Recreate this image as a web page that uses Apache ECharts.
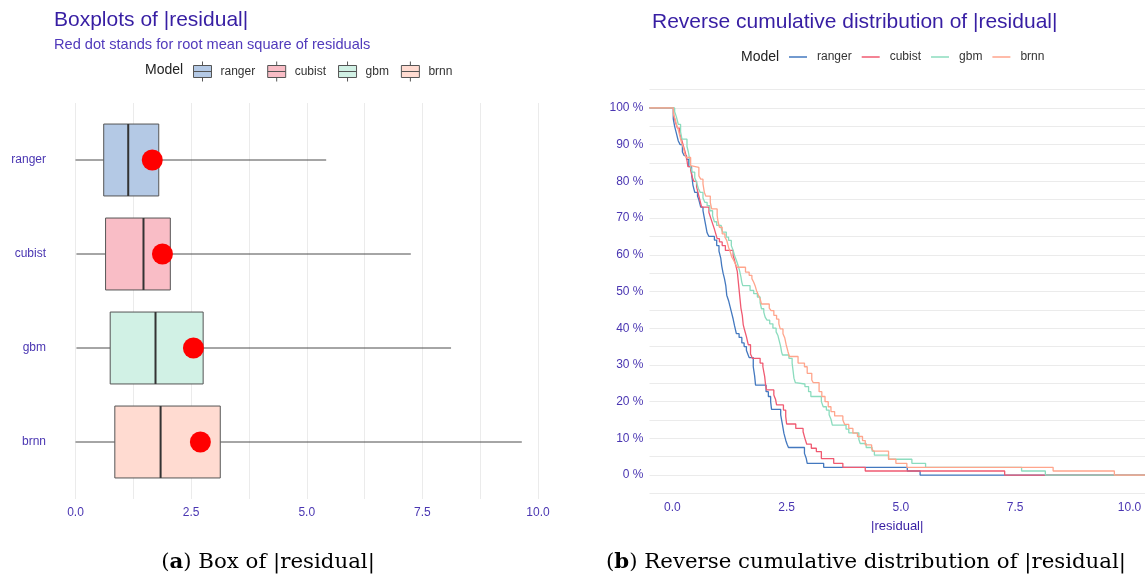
<!DOCTYPE html>
<html><head><meta charset="utf-8">
<script src="https://cdn.jsdelivr.net/npm/echarts@6/dist/echarts.min.js"></script>
<style>html,body{margin:0;padding:0;background:#fff}#c{width:1148px;height:578px}</style>
</head><body><div id="c"></div>
<script>
// ---------- data ----------
const models = ['ranger', 'cubist', 'gbm', 'brnn'];
const lineColors = ['#4378bf', '#f05a71', '#8bdcbe', '#ffa58c'];
const boxFills = ['#b4c9e5', '#f9bdc6', '#d1f1e5', '#ffdbd1'];

const boxMin    = [0.00, 0.02, 0.02, 0.00];
const boxQ1     = [0.61, 0.65, 0.75, 0.85];
const boxMedian = [1.14, 1.47, 1.73, 1.84];
const boxQ3     = [1.80, 2.05, 2.76, 3.13];
const boxMax    = [5.42, 7.25, 8.12, 9.65];
const rmse      = [1.66, 1.88, 2.55, 2.70];

const xTickLabels = [0, 2.5, 5, 7.5, 10];
const pctTickLabels = [0, 10, 20, 30, 40, 50, 60, 70, 80, 90, 100];

// reverse cumulative distribution: [|residual|, % of residuals above]
const rangerSteps = [[-0.5,100],[0.02,97],[0.05,95],[0.09,93],[0.13,91],[0.17,90],[0.22,88],[0.26,87],[0.31,86],[0.36,84],[0.42,82],[0.45,79],[0.49,77],[0.55,76],[0.58,75],[0.62,73],[0.67,72],[0.70,70],[0.73,68],[0.76,66],[0.80,65],[0.92,64],[0.97,62.5],[1.02,61],[1.06,59],[1.08,57],[1.11,55],[1.14,53.5],[1.17,51.5],[1.19,49],[1.23,47.5],[1.26,46],[1.29,44.5],[1.33,42.5],[1.36,40.7],[1.40,38.5],[1.46,37.5],[1.52,36],[1.57,35],[1.62,34],[1.65,33],[1.68,32],[1.77,29.5],[1.80,27],[1.82,24.5],[2.05,22.7],[2.10,21.4],[2.15,20],[2.17,17.9],[2.37,16.4],[2.41,13.6],[2.44,11.4],[2.48,9.5],[2.51,8.4],[2.54,7.5],[2.89,5.9],[2.93,4.5],[2.95,3.2],[3.31,2.1],[5.14,1.1],[5.42,0],[10.34,0]];
const cubistSteps = [[-0.5,100],[0.03,98],[0.07,96],[0.11,94.5],[0.16,93],[0.20,91.5],[0.24,89.7],[0.28,88],[0.31,86.5],[0.34,84],[0.40,83],[0.44,81],[0.47,80],[0.53,78.5],[0.56,77],[0.60,75],[0.64,73],[0.80,71.5],[0.84,70],[0.88,68.5],[0.92,67],[0.95,65.7],[0.98,64.4],[1.03,63.5],[1.09,62.5],[1.16,61.2],[1.33,59.8],[1.36,58.5],[1.39,57],[1.42,55.5],[1.44,53],[1.46,50.5],[1.48,48],[1.50,45.5],[1.53,43.5],[1.55,41],[1.58,39.5],[1.62,37.7],[1.66,35.5],[1.71,33],[1.75,31.8],[1.92,30.5],[1.98,29.5],[2.02,26.8],[2.04,24.5],[2.06,23.2],[2.22,21.8],[2.26,20.5],[2.28,19.1],[2.43,17.7],[2.48,16],[2.50,13.9],[2.70,12.7],[2.86,11.8],[2.90,10],[2.94,8.4],[3.04,7.3],[3.15,6.4],[3.26,4.5],[3.53,3.2],[3.73,2.1],[4.22,1.1],[7.27,0],[10.34,0]];
const gbmSteps = [[-0.5,100],[0.05,99],[0.09,97.5],[0.13,95.5],[0.18,93.5],[0.21,91.5],[0.32,89.5],[0.35,88],[0.38,86],[0.40,84],[0.43,82.5],[0.49,81],[0.53,79.7],[0.57,78],[0.61,77],[0.67,75.5],[0.71,74.3],[0.76,73.4],[0.82,72],[0.88,70.6],[0.92,69],[0.97,68],[1.07,67.1],[1.10,66.2],[1.18,64.8],[1.23,63.9],[1.29,62.5],[1.33,61.2],[1.36,59.8],[1.40,58.5],[1.44,57],[1.47,55.7],[1.50,54],[1.52,52.5],[1.54,51.6],[1.70,50.3],[1.78,49.4],[1.86,48.5],[1.92,47],[1.95,45.3],[2.00,44.4],[2.03,43],[2.07,42.2],[2.13,41.2],[2.20,40],[2.27,39],[2.31,38],[2.34,36.5],[2.37,35],[2.39,33.5],[2.41,32.7],[2.55,31.8],[2.62,30.5],[2.64,28.5],[2.66,26.4],[2.69,25.2],[2.71,24.8],[2.90,24.1],[2.98,22.7],[3.03,21.4],[3.26,20],[3.30,18.6],[3.37,17.7],[3.43,16.4],[3.47,15.2],[3.50,13.6],[3.80,12.5],[3.86,11.5],[4.08,9.7],[4.11,8.6],[4.24,7.5],[4.37,6.5],[4.42,5.4],[4.73,4.3],[5.24,3.2],[5.54,2.1],[7.64,1.1],[8.16,0],[10.34,0]];
const brnnSteps = [[-0.5,100],[0.02,98.4],[0.06,97],[0.09,95.5],[0.12,94.5],[0.15,93],[0.17,92],[0.20,90.6],[0.24,89.3],[0.27,87.5],[0.30,86.5],[0.40,84.3],[0.43,83.8],[0.58,81.5],[0.62,80.6],[0.67,79.3],[0.70,77],[0.73,76],[0.83,74.3],[0.86,72.5],[0.98,70.7],[1.00,69],[1.03,67.5],[1.09,65.7],[1.15,64.8],[1.19,63.9],[1.23,62],[1.27,60.7],[1.30,59.4],[1.34,58.5],[1.38,57.5],[1.42,56.6],[1.60,55.3],[1.68,54.4],[1.74,53.5],[1.78,52.5],[1.81,51.6],[1.84,50.3],[1.88,49.1],[1.92,48],[1.95,46.6],[2.12,45.5],[2.16,44.8],[2.22,43.5],[2.28,42.5],[2.33,41.2],[2.36,39.8],[2.42,38.5],[2.46,37.3],[2.49,35.5],[2.53,33.6],[2.56,32.3],[2.75,30.5],[2.89,29.5],[2.95,27.7],[3.05,25.9],[3.08,25.2],[3.21,22.7],[3.27,21.4],[3.34,20],[3.41,18.6],[3.47,17.3],[3.55,16.1],[3.73,15],[3.77,13.8],[3.86,12.7],[3.95,11.4],[4.05,10.5],[4.16,9.4],[4.22,8.2],[4.36,7.2],[4.40,6.5],[4.73,4.3],[4.89,3.2],[5.13,2.1],[8.33,1.1],[9.67,0],[10.34,0]];
const stepSeries = [rangerSteps, cubistSteps, gbmSteps, brnnSteps];

// ---------- chart ----------
const FONT = '"Liberation Sans", Arial, Helvetica, sans-serif';
const PURPLE = '#371ea3';
const AXIS_TXT = '#4a36b2';
const GRID_C = '#ebebeb';

const chart = echarts.init(document.getElementById('c'), null, {renderer: 'canvas'});

function isTick(v, list) {
  return list.some(t => Math.abs(v - t) < 1e-6);
}

function renderBox(params, api) {
  const cat = api.value(0);
  const yC = api.coord([0, cat])[1];
  const h = api.size([0, 1])[1] * 0.765;
  const xs = [1, 2, 3, 4, 5].map(i => api.coord([api.value(i), cat])[0]);
  const fill = api.visual('color');
  return {
    type: 'group',
    children: [
      {type: 'line', shape: {x1: xs[0], y1: yC, x2: xs[1], y2: yC}, style: {stroke: '#4d4d4d', lineWidth: 1}},
      {type: 'line', shape: {x1: xs[3], y1: yC, x2: xs[4], y2: yC}, style: {stroke: '#4d4d4d', lineWidth: 1}},
      {type: 'rect', shape: {x: xs[1], y: yC - h / 2, width: xs[3] - xs[1], height: h}, style: {fill: fill, stroke: '#555', lineWidth: 1}},
      {type: 'line', shape: {x1: xs[2], y1: yC - h / 2, x2: xs[2], y2: yC + h / 2}, style: {stroke: '#333', lineWidth: 2}}
    ]
  };
}

const series = [];
models.forEach((m, i) => {
  series.push({
    name: m, type: 'custom', xAxisIndex: 1, yAxisIndex: 1,
    itemStyle: {color: boxFills[i]},
    encode: {x: [1, 2, 3, 4, 5], y: 0},
    renderItem: renderBox,
    data: [[i, boxMin[i], boxQ1[i], boxMedian[i], boxQ3[i], boxMax[i]]],
    z: 2
  });
});
series.push({
  name: 'rmse', type: 'scatter', xAxisIndex: 1, yAxisIndex: 1,
  symbol: 'circle', symbolSize: 21,
  itemStyle: {color: '#ff0000', opacity: 1},
  data: models.map((m, i) => [rmse[i], i]),
  z: 5
});
models.forEach((m, i) => {
  series.push({
    name: m, type: 'line', xAxisIndex: 2, yAxisIndex: 2,
    step: 'end', showSymbol: false, symbol: 'none',
    lineStyle: {color: lineColors[i], width: 1.3},
    itemStyle: {color: lineColors[i]},
    data: stepSeries[i],
    z: 3 + i
  });
});

const CAP = '"DejaVu Serif", serif';
const option = {
  animation: false,
  backgroundColor: '#fff',
  textStyle: {fontFamily: FONT},
  title: [
    {text: 'Boxplots of |residual|', left: 54, top: 10, padding: 0,
     textStyle: {fontSize: 21, fontWeight: 'normal', color: PURPLE, fontFamily: FONT}},
    {text: 'Red dot stands for root mean square of residuals', left: 54, top: 37, padding: 0,
     textStyle: {fontSize: 14.6, fontWeight: 'normal', color: '#5039bb', fontFamily: FONT}},
    {text: 'Model', left: 145, top: 63, padding: 0,
     textStyle: {fontSize: 14, fontWeight: 'normal', color: '#222', fontFamily: FONT}},
    {text: 'Reverse cumulative distribution of |residual|', left: 652, top: 12, padding: 0,
     textStyle: {fontSize: 21, fontWeight: 'normal', color: PURPLE, fontFamily: FONT}},
    {text: 'Model', left: 741, top: 50, padding: 0,
     textStyle: {fontSize: 14, fontWeight: 'normal', color: '#222', fontFamily: FONT}}
  ],
  legend: [
    {
      left: 193, top: 61, orient: 'horizontal', padding: 0,
      itemWidth: 18, itemHeight: 20, itemGap: 12, selectedMode: false,
      icon: 'path://M0,4L18,4L18,16L0,16Z M0,10L18,10 M9,0L9,4 M9,16L9,20',
      textStyle: {fontSize: 12, color: '#333', fontFamily: FONT, padding: [0, 0, 0, 4]},
      data: models.map((m, i) => ({name: m, itemStyle: {color: boxFills[i], borderColor: '#555', borderWidth: 1}}))
    },
    {
      left: 789, top: 51, orient: 'horizontal', padding: 0,
      itemWidth: 18, itemHeight: 1.5, itemGap: 10, selectedMode: false,
      icon: 'rect',
      textStyle: {fontSize: 12, color: '#333', fontFamily: FONT, padding: [0, 0, 0, 5]},
      data: models.map((m, i) => ({name: m, itemStyle: {color: lineColors[i], borderWidth: 0}}))
    }
  ],
  grid: [
    {left: 75.5, width: 462.5, top: 103, height: 396, containLabel: false},
    {left: 75.5, width: 462.5, top: 113, height: 376, containLabel: false},
    {left: 649.5, right: 0, top: 89.6, height: 403.8, containLabel: false}
  ],
  xAxis: [
    {gridIndex: 0, type: 'value', min: 0, max: 10, interval: 1.25,
     axisLine: {show: false}, axisTick: {show: false},
     splitLine: {show: true, lineStyle: {color: GRID_C, width: 1}},
     axisLabel: {show: true, margin: 8, fontSize: 12, color: AXIS_TXT, fontFamily: FONT,
       formatter: v => isTick(v, xTickLabels) ? v.toFixed(1) : ''}},
    {gridIndex: 1, type: 'value', min: 0, max: 10, show: false},
    {gridIndex: 2, type: 'value', min: -0.5, max: 10.34, interval: 0.5,
     axisLine: {show: false}, axisTick: {show: false}, splitLine: {show: false},
     name: '|residual|', nameLocation: 'middle', nameGap: 27,
     nameTextStyle: {fontSize: 13, color: PURPLE, fontFamily: FONT},
     axisLabel: {show: true, margin: 8, fontSize: 12, color: AXIS_TXT, fontFamily: FONT,
       showMinLabel: true, showMaxLabel: true,
       formatter: v => isTick(v, xTickLabels) ? v.toFixed(1) : ''}}
  ],
  yAxis: [
    {gridIndex: 0, type: 'value', min: 0, max: 1, show: false},
    {gridIndex: 1, type: 'category', data: models, inverse: true,
     axisLine: {show: false}, axisTick: {show: false}, splitLine: {show: false},
     axisLabel: {margin: 29.5, fontSize: 12, color: AXIS_TXT, fontFamily: FONT}},
    {gridIndex: 2, type: 'value', min: -5, max: 105, interval: 5,
     axisLine: {show: false}, axisTick: {show: false},
     splitLine: {show: true, lineStyle: {color: GRID_C, width: 1.2}},
     axisLabel: {margin: 6, fontSize: 12, color: AXIS_TXT, fontFamily: FONT,
       showMinLabel: true, showMaxLabel: true,
       formatter: v => { const p = Math.round(v); return pctTickLabels.indexOf(p) >= 0 && Math.abs(v - p) < 1e-6 ? p + ' %' : ''; }}}
  ],
  graphic: [
    {type: 'text', x: 268, y: 562, style: {
      text: '{b|(}{bb|a}{b|)} Box of |residual|',
      textAlign: 'center', textVerticalAlign: 'middle',
      font: '21.3px ' + CAP, fill: '#000',
      rich: {b: {font: '21.3px ' + CAP}, bb: {font: 'bold 21.3px ' + CAP}}
    }},
    {type: 'text', x: 866, y: 562, style: {
      text: '{b|(}{bb|b}{b|)} Reverse cumulative distribution of |residual|',
      textAlign: 'center', textVerticalAlign: 'middle',
      font: '21.3px ' + CAP, fill: '#000',
      rich: {b: {font: '21.3px ' + CAP}, bb: {font: 'bold 21.3px ' + CAP}}
    }}
  ],
  series: series
};
chart.setOption(option);
</script>
</body></html>
